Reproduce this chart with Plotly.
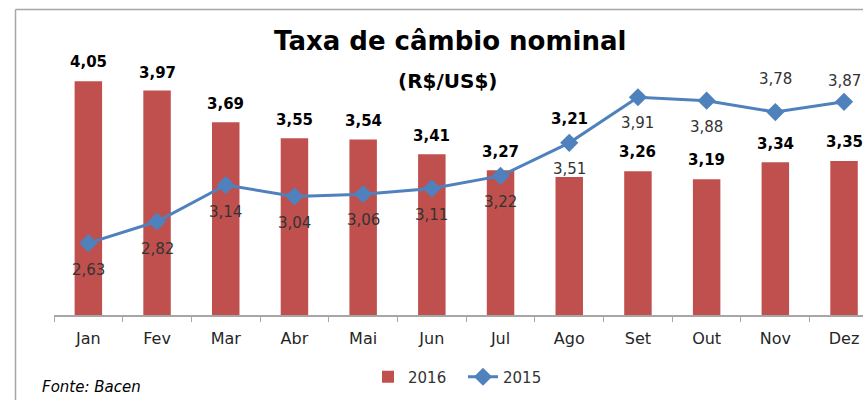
import plotly.graph_objects as go

months = ["Jan", "Fev", "Mar", "Abr", "Mai", "Jun", "Jul", "Ago", "Set", "Out", "Nov", "Dez"]
v2016 = [4.05, 3.97, 3.69, 3.55, 3.54, 3.41, 3.27, 3.21, 3.26, 3.19, 3.34, 3.35]
v2015 = [2.63, 2.82, 3.14, 3.04, 3.06, 3.11, 3.22, 3.51, 3.91, 3.88, 3.78, 3.87]

# label offsets in pixels (style, not data)
bar_label_shift = [19, 17, 18, 18, 18, 18, 18, 58, 19, 19, 18, 19]
line_label_shift = [-27, -27, -27, -27, -26, -27, -26, -26, -26, -26, 33, 21]

def fmt(v):
    return f"{v:.2f}".replace(".", ",")

FONT = "DejaVu Sans"
BAR = "#C0504D"
LINE = "#4F81BD"

W, H = 863, 400
ML, MR, MT, MB = 54, 0, 30, 85
pw, ph = W - ML - MR, H - MT - MB

def px(x):
    return (x - ML) / pw

def py(y):
    return (H - MB - y) / ph

fig = go.Figure()
fig.add_trace(go.Bar(x=months, y=v2016, name="2016", marker=dict(color=BAR, line=dict(width=0)),
                     width=0.4))
fig.add_trace(go.Scatter(x=months, y=v2015, name="2015", mode="lines+markers",
                         line=dict(color=LINE, width=3),
                         marker=dict(symbol="diamond", size=14, color=LINE)))

ann = []
for m, v, s in zip(months, v2016, bar_label_shift):
    ann.append(dict(x=m, y=v, text=f"<b>{fmt(v)}</b>", showarrow=False, yshift=s,
                    yanchor="middle", font=dict(family=FONT, size=15, color="#000000")))
for m, v, s in zip(months, v2015, line_label_shift):
    ann.append(dict(x=m, y=v, text=fmt(v), showarrow=False, yshift=s,
                    yanchor="middle", font=dict(family=FONT, size=15, color="#333333")))
ann.append(dict(xref="paper", yref="paper", x=px(450), y=py(41), text="<b>Taxa de câmbio nominal</b>",
                showarrow=False, xanchor="center", yanchor="middle",
                font=dict(family=FONT, size=26, color="#000000")))
ann.append(dict(xref="paper", yref="paper", x=px(447), y=py(81), text="<b>(R$/US$)</b>",
                showarrow=False, xanchor="center", yanchor="middle",
                font=dict(family=FONT, size=20, color="#000000")))
ann.append(dict(xref="paper", yref="paper", x=px(40), y=py(387), text="<i>Fonte: Bacen</i>",
                showarrow=False, xanchor="left", yanchor="middle",
                font=dict(family=FONT, size=15, color="#000000")))

shapes = [
    dict(type="line", xref="paper", yref="paper", x0=px(15.5), x1=px(870), y0=py(9.5), y1=py(9.5),
         line=dict(color="#A6A6A6", width=1.5)),
    dict(type="line", xref="paper", yref="paper", x0=px(15.5), x1=px(15.5), y0=py(9.5), y1=py(410),
         line=dict(color="#A6A6A6", width=1.5)),
]

fig.update_layout(
    width=W, height=H,
    margin=dict(l=ML, r=MR, t=MT, b=MB),
    paper_bgcolor="white", plot_bgcolor="white",
    showlegend=True,
    legend=dict(orientation="h", x=px(368), y=py(377), xanchor="left", yanchor="middle",
                entrywidth=50, entrywidthmode="pixels",
                font=dict(family=FONT, size=15, color="#333333"), traceorder="normal",
                bgcolor="rgba(0,0,0,0)"),
    annotations=ann,
    shapes=shapes,
    bargap=0.6,
)
fig.update_xaxes(type="category", range=[-0.5, 11.276], showline=True, linecolor="#A6A6A6",
                 linewidth=1.5, ticks="outside", tickson="boundaries", ticklen=5,
                 tickcolor="#A6A6A6", showgrid=False, ticklabelstandoff=8,
                 tickfont=dict(family=FONT, size=16, color="#262626"))
fig.update_yaxes(range=[2.0, 4.5], visible=False, showgrid=False)

fig.write_html(
    "out.html",
    config={"displayModeBar": False},
    post_script="document.body.style.margin='0';"
                "document.documentElement.style.overflow='hidden';"
                "document.body.style.overflow='hidden';",
)
